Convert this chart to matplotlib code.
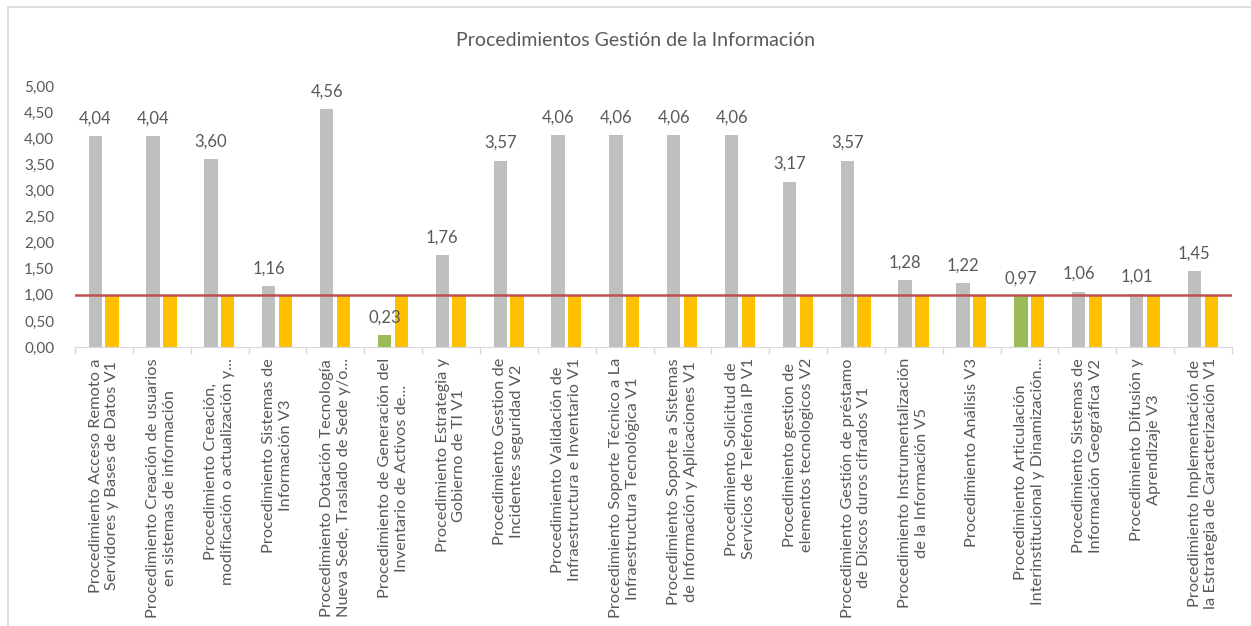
import matplotlib
matplotlib.use("Agg")
import matplotlib.pyplot as plt
from matplotlib.ticker import FixedLocator, FuncFormatter
from matplotlib.patches import Rectangle
import numpy as np

plt.rcParams['font.family'] = ['Lato', 'DejaVu Sans']

# ---- data ----
procedures = [
    "Procedimiento Acceso Remoto a\nServidores y Bases de Datos V1",
    "Procedimiento Creación de usuarios\nen sistemas de información",
    "Procedimiento Creación,\nmodificación o actualización y...",
    "Procedimiento Sistemas de\nInformación V3",
    "Procedimiento Dotación Tecnología\nNueva Sede, Traslado de Sede y/o...",
    "Procedimiento de Generación del\nInventario de Activos de...",
    "Procedimiento Estrategia y\nGobierno de TI V1",
    "Procedimiento Gestion de\nIncidentes seguridad V2",
    "Procedimiento Validación de\nInfraestructura e Inventario V1",
    "Procedimiento Soporte Técnico a La\nInfraestructura Tecnológica V1",
    "Procedimiento Soporte a Sistemas\nde Información y Aplicaciones V1",
    "Procedimiento Solicitud de\nServicios de Telefonía IP V1",
    "Procedimiento gestion de\nelementos tecnologicos V2",
    "Procedimiento Gestión de préstamo\nde Discos duros cifrados V1",
    "Procedimiento Instrumentalización\nde la Información V5",
    "Procedimiento Análisis V3",
    "Procedimiento Articulación\nInterinstitucional y Dinamización...",
    "Procedimiento Sistemas de\nInformación Geográfica V2",
    "Procedimiento Difusión y\nAprendizaje V3",
    "Procedimiento Implementación de\nla Estrategia de Caracterización V1",
]
scores = [4.04, 4.04, 3.60, 1.16, 4.56, 0.23, 1.76, 3.57, 4.06, 4.06,
          4.06, 4.06, 3.17, 3.57, 1.28, 1.22, 0.97, 1.06, 1.01, 1.45]
target = [1.0] * len(scores)
threshold = 1.0
title = "Procedimientos Gestión de la Información"

# ---- style ----
GRAY = "#BFBFBF"
GREEN = "#9BBB59"
ORANGE = "#FFC000"
RED = "#C0504D"
TEXT = "#595959"

fig = plt.figure(figsize=(12.51, 6.26), dpi=100)
ax = fig.add_axes([75 / 1251, 279 / 626, (1232 - 75) / 1251, (540 - 279) / 626])

x = np.arange(len(scores))
w = 0.23
colors = [GREEN if v < threshold else GRAY for v in scores]
bars = ax.bar(x - 0.15, scores, width=w, color=colors, zorder=2)
ax.bar(x + 0.14, target, width=w, color=ORANGE, zorder=2)
ax.axhline(threshold, color=RED, linewidth=1.8, zorder=3)

for b, v in zip(bars, scores):
    ax.annotate(f"{v:.2f}".replace(".", ","),
                (b.get_x() + b.get_width() / 2, v),
                xytext=(0, 7), textcoords="offset points",
                ha="center", va="bottom", fontsize=12, color=TEXT)

ax.set_xlim(-0.5, len(scores) - 0.5)
ax.set_ylim(0, 5)
ax.set_yticks(np.arange(0, 5.01, 0.5))
ax.yaxis.set_major_formatter(FuncFormatter(lambda v, p: f"{v:.2f}".replace(".", ",")))
ax.tick_params(axis="y", length=0, labelsize=11, labelcolor=TEXT, pad=15)

ax.set_xticks(x)
ax.set_xticklabels(procedures, rotation=90, ha="center", va="top",
                   multialignment="center", fontsize=11.8, color=TEXT,
                   linespacing=1.25)
ax.tick_params(axis="x", which="major", length=0, pad=8)
ax.xaxis.set_minor_locator(FixedLocator(np.arange(-0.5, len(scores), 1.0)))
ax.tick_params(axis="x", which="minor", length=5, color="#D9D9D9", width=1)

for s in ["top", "right", "left"]:
    ax.spines[s].set_visible(False)
ax.spines["bottom"].set_color("#D9D9D9")

fig.text(635 / 1251, 1 - 41 / 626, title, ha="center", va="center",
         fontsize=14, color=TEXT)

fig.patches.append(Rectangle((8 / 1251, -0.05), 1.05, 1.05 - 7 / 626,
                             transform=fig.transFigure,
                             fill=False, edgecolor="#D9D9D9", linewidth=1.2))

fig.savefig("out.png", dpi=100)
